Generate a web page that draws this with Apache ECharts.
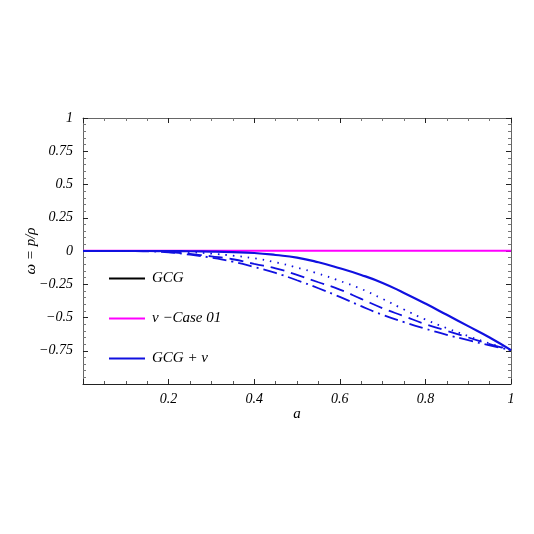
<!DOCTYPE html>
<html>
<head>
<meta charset="utf-8">
<script src="https://cdn.jsdelivr.net/npm/echarts@6/dist/echarts.min.js"></script>
<style>
  html, body { margin: 0; padding: 0; background: #fff; }
  #chart { width: 534px; height: 534px; }
</style>
</head>
<body>
<div id="chart"></div>
<script>
// scale factor a
const aValues = [0, 0.05, 0.1, 0.15, 0.2, 0.25, 0.3, 0.35, 0.4, 0.45, 0.5,
  0.55, 0.6, 0.65, 0.7, 0.75, 0.8, 0.85, 0.9, 0.95, 1];
// GCG + nu curves
const wSolid = [0, 0, 0, 0, 0, -0.002, -0.004, -0.008, -0.015, -0.03, -0.05,
  -0.085, -0.13, -0.18, -0.24, -0.315, -0.395, -0.48, -0.565, -0.65, -0.745];
const wDotted = [0, 0, 0, 0, -0.002, -0.008, -0.02, -0.035, -0.055, -0.085, -0.125,
  -0.17, -0.225, -0.285, -0.36, -0.44, -0.515, -0.58, -0.64, -0.695, -0.745];
const wDashed = [0, 0, 0, 0, -0.008, -0.022, -0.04, -0.062, -0.097, -0.13, -0.18,
  -0.235, -0.29, -0.36, -0.43, -0.49, -0.55, -0.6, -0.65, -0.7, -0.745];
const wDashDot = [0, 0, 0, -0.002, -0.01, -0.028, -0.05, -0.08, -0.12, -0.165, -0.22,
  -0.28, -0.345, -0.415, -0.48, -0.535, -0.585, -0.63, -0.67, -0.71, -0.745];
// nu - Case 01
const wNu = [0.002, 0.002, 0.002, 0.002, 0.002, 0.002, 0.002, 0.002, 0.002, 0.002, 0.002,
  0.002, 0.002, 0.002, 0.002, 0.002, 0.002, 0.002, 0.002, 0.002, 0.002];
const legendNames = ['GCG', 'ν −Case 01', 'GCG + ν'];

const pairs = (ys) => aValues.map((a, i) => [a, ys[i]]);
const fmt = (v) => v === 0 ? '0' : (v < 0 ? '\u2212' : '') + String(Math.abs(v));
const frame = '#666';
const txt = { color: '#000', fontFamily: 'Liberation Serif', fontStyle: 'italic', fontSize: 14 };

const blueLine = (ys, type, name) => ({
  name: name, type: 'line', data: pairs(ys), smooth: true, showSymbol: false,
  lineStyle: { color: '#1010e0', width: type === 'solid' ? 2.2 : 1.8, type: type },
  itemStyle: { color: '#1010e0' }, z: 3
});

// frame axis without labels (top / right)
const mirror = (base) => Object.assign(base, {
  axisLine: { show: true, onZero: false, lineStyle: { color: frame } },
  axisTick: { inside: true, length: 5, lineStyle: { color: '#222' } },
  axisLabel: { show: false }, splitLine: { show: false }
});

const option = {
  backgroundColor: '#fff',
  animation: false,
  grid: { left: 83, right: 23, top: 118, bottom: 150 },
  legend: {
    left: 104, top: 266, orient: 'vertical', itemGap: 25,
    itemWidth: 36, itemHeight: 2, icon: 'rect',
    textStyle: { ...txt, fontSize: 15, padding: [0, 0, 0, 2] },
    data: legendNames
  },
  xAxis: [{
    type: 'value', min: 0, max: 1, interval: 0.2,
    name: 'a', nameLocation: 'middle', nameGap: 21, nameTextStyle: { ...txt, fontSize: 15 },
    axisLine: { onZero: false, lineStyle: { color: '#222', width: 1 } },
    axisTick: { inside: true, length: 5, lineStyle: { color: '#222' } },
    minorTick: { show: true, splitNumber: 4, length: 3, lineStyle: { color: '#555' } },
    axisLabel: { ...txt, margin: 8, formatter: (v) => v === 0 ? '' : fmt(v) },
    splitLine: { show: false }
  }, mirror({
    type: 'value', min: 0, max: 1, interval: 0.2, position: 'top',
    minorTick: { show: true, splitNumber: 4, length: 3, lineStyle: { color: '#777' } }
  })],
  yAxis: [{
    type: 'value', min: -1, max: 1, interval: 0.25,
    name: 'ω = p/ρ', nameLocation: 'middle', nameGap: 44, nameMoveOverlap: false,
    nameTextStyle: { ...txt, fontSize: 15 },
    axisLine: { show: true, onZero: false, lineStyle: { color: frame } },
    axisTick: { inside: true, length: 5, lineStyle: { color: '#222' } },
    minorTick: { show: true, splitNumber: 5, length: 3, lineStyle: { color: '#777' } },
    axisLabel: { ...txt, margin: 10, formatter: (v) => v === -1 ? '' : fmt(v) },
    splitLine: { show: false }
  }, mirror({
    type: 'value', min: -1, max: 1, interval: 0.25, position: 'right',
    minorTick: { show: true, splitNumber: 5, length: 3, lineStyle: { color: '#777' } }
  })],
  series: [
    { name: 'GCG', type: 'line', data: [], showSymbol: false,
      lineStyle: { color: '#000', width: 2 }, itemStyle: { color: '#000' } },
    { name: 'ν −Case 01', type: 'line', data: pairs(wNu), showSymbol: false,
      lineStyle: { color: '#ff00ff', width: 2 }, itemStyle: { color: '#ff00ff' }, z: 2 },
    blueLine(wSolid, 'solid', 'GCG + ν'),
    blueLine(wDotted, [1.5, 6], 'GCG + ν'),
    blueLine(wDashed, [14, 7], 'GCG + ν'),
    blueLine(wDashDot, [14, 5, 2, 5], 'GCG + ν')
  ]
};

const chart = echarts.init(document.getElementById('chart'));
chart.setOption(option);
</script>
</body>
</html>
